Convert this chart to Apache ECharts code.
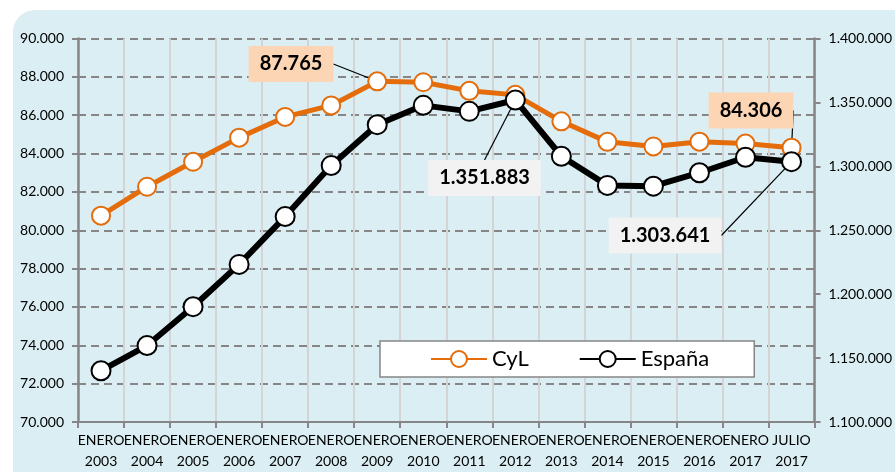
<!DOCTYPE html>
<html>
<head>
<meta charset="utf-8">
<script src="https://cdn.jsdelivr.net/npm/echarts@6/dist/echarts.min.js"></script>
<style>
html,body{margin:0;padding:0;background:#fff;}
#chart{width:895px;height:472px;}
</style>
</head>
<body>
<div id="chart"></div>
<script>
const categories = ['ENERO\n2003','ENERO\n2004','ENERO\n2005','ENERO\n2006','ENERO\n2007','ENERO\n2008','ENERO\n2009','ENERO\n2010','ENERO\n2011','ENERO\n2012','ENERO\n2013','ENERO\n2014','ENERO\n2015','ENERO\n2016','ENERO\n2017','JULIO\n2017'];
const cylValues = [80760, 82270, 83570, 84830, 85910, 86510, 87765, 87720, 87270, 87060, 85680, 84610, 84370, 84620, 84520, 84306];
const espanaValues = [1140100, 1159800, 1190200, 1223300, 1260700, 1300600, 1332600, 1347700, 1343000, 1351883, 1307900, 1285100, 1284500, 1295000, 1307100, 1303641];
const seriesNames = ['CyL', 'España'];
const leftAxis = {min: 70000, max: 90000, interval: 2000};
const rightAxis = {min: 1100000, max: 1400000, interval: 50000};
const cylLabelIdx = [6, 15];
const espLabelIdx = [9, 15];

function fmt(v){ return String(Math.round(v)).replace(/\B(?=(\d{3})+(?!\d))/g, '.'); }

const FONT = 'Lato, "Open Sans", sans-serif';
const ORANGE = '#E46C0A';
const GRAYLINE = '#868686';

// label box centre positions (annotation layout)
const labelPos = {
  '0-6': [291, 64],
  '0-15': [751, 110.5],
  '1-9': [484.5, 178],
  '1-15': [665, 235.5]
};

function buildData(values, idxs, bg){
  return values.map((v, i) => {
    if (idxs.indexOf(i) >= 0) {
      return {
        value: v,
        label: {
          show: true,
          formatter: p => fmt(p.value),
          backgroundColor: bg,
          color: '#000',
          fontFamily: FONT,
          fontWeight: 'bold',
          fontSize: 20,
          padding: [9, 11, 7, 11],
          align: 'center',
          verticalAlign: 'middle'
        },
        labelLine: {show: true, lineStyle: {color: '#000', width: 1.2}}
      };
    }
    return v;
  });
}

const chart = echarts.init(document.getElementById('chart'), null, {renderer: 'canvas'});
chart.setOption({
  animation: false,
  backgroundColor: '#ffffff',
  graphic: [{
    type: 'rect', z: -100, silent: true,
    shape: {x: 13, y: 10, width: 920, height: 500, r: 22},
    style: {fill: '#DAEEF3'}
  }],
  grid: {left: 78, right: 79, top: 38.5, bottom: 48.5, containLabel: false},
  legend: {
    data: seriesNames,
    left: 380, top: 341,
    padding: [7, 45, 7, 50],
    itemGap: 50,
    itemWidth: 56, itemHeight: 20,
    backgroundColor: '#ffffff',
    borderColor: GRAYLINE, borderWidth: 1.5,
    textStyle: {fontFamily: FONT, fontSize: 22, color: '#000'}
  },
  xAxis: {
    type: 'category',
    data: categories,
    boundaryGap: true,
    axisLine: {show: true, lineStyle: {color: GRAYLINE, width: 2}},
    axisTick: {show: true, length: 6, lineStyle: {color: GRAYLINE, width: 2}},
    splitLine: {show: true, lineStyle: {color: '#D4D4D4', width: 2}},
    axisLabel: {fontFamily: FONT, fontSize: 14, color: '#000', lineHeight: 21, margin: 8, interval: 0}
  },
  yAxis: [{
    type: 'value', position: 'left',
    min: leftAxis.min, max: leftAxis.max, interval: leftAxis.interval,
    axisLine: {show: true, lineStyle: {color: GRAYLINE, width: 2.5}},
    axisTick: {show: true, length: 6, lineStyle: {color: GRAYLINE, width: 2}},
    splitLine: {show: true, lineStyle: {color: GRAYLINE, width: 2, type: [8, 5]}},
    axisLabel: {fontFamily: FONT, fontSize: 14, color: '#000', margin: 14, formatter: fmt}
  }, {
    type: 'value', position: 'right',
    min: rightAxis.min, max: rightAxis.max, interval: rightAxis.interval,
    axisLine: {show: true, lineStyle: {color: GRAYLINE, width: 2.5}},
    axisTick: {show: true, length: 6, lineStyle: {color: GRAYLINE, width: 2}},
    splitLine: {show: false},
    axisLabel: {fontFamily: FONT, fontSize: 14, color: '#000', margin: 14, formatter: fmt}
  }],
  series: [{
    name: seriesNames[0], type: 'line', yAxisIndex: 0,
    data: buildData(cylValues, cylLabelIdx, '#FCD5B4'),
    symbol: 'circle', symbolSize: 18,
    lineStyle: {color: ORANGE, width: 5},
    itemStyle: {color: '#ffffff', borderColor: ORANGE, borderWidth: 2},
    labelLayout: p => {
      const k = p.seriesIndex + '-' + p.dataIndex;
      if (labelPos[k]) return {x: labelPos[k][0], y: labelPos[k][1]};
      return {};
    },
    z: 3
  }, {
    name: seriesNames[1], type: 'line', yAxisIndex: 1,
    data: buildData(espanaValues, espLabelIdx, '#F2F2F2'),
    symbol: 'circle', symbolSize: 19,
    lineStyle: {color: '#000000', width: 6},
    itemStyle: {color: '#ffffff', borderColor: '#000000', borderWidth: 2},
    labelLayout: p => {
      const k = p.seriesIndex + '-' + p.dataIndex;
      if (labelPos[k]) return {x: labelPos[k][0], y: labelPos[k][1]};
      return {};
    },
    z: 4
  }]
});
</script>
</body>
</html>
